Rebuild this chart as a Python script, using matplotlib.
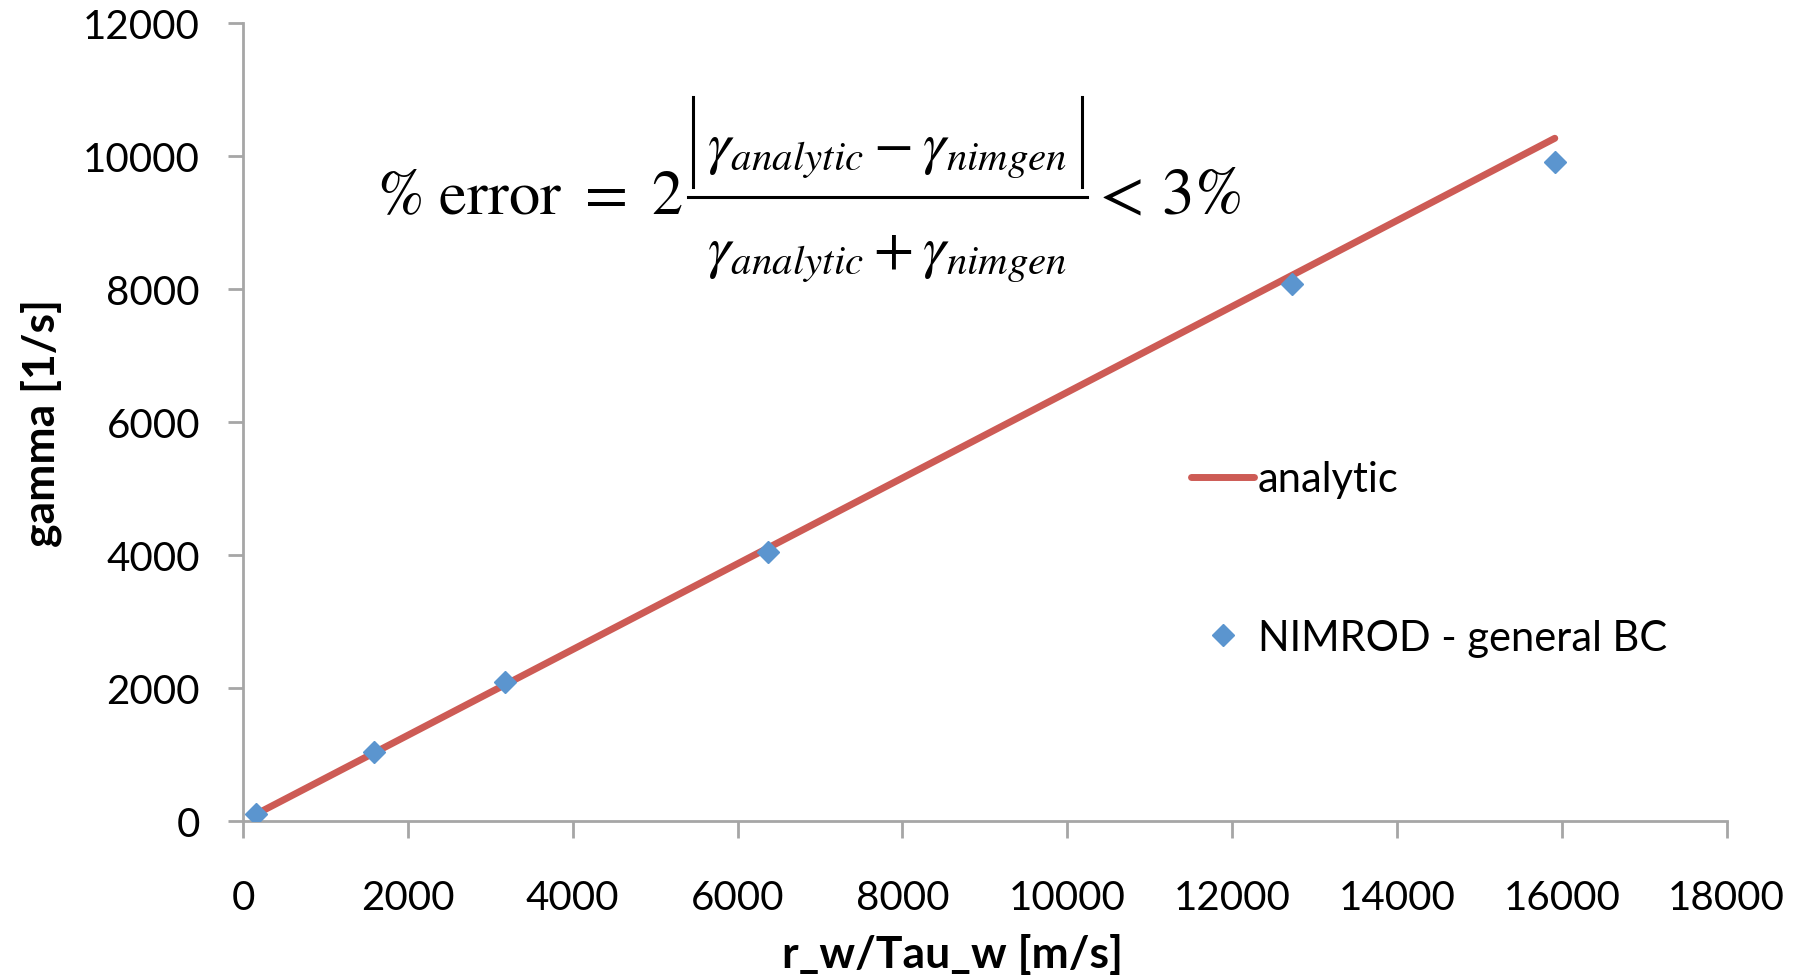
import matplotlib
matplotlib.use("Agg")
import matplotlib.pyplot as plt
from matplotlib.lines import Line2D

# ---------------------------------------------------------------
# data
# ---------------------------------------------------------------
x_vals = [159, 1592, 3183, 6366, 12732, 15915]
analytic = [103, 1026, 2052, 4104, 8209, 10266]
nimrod = [111, 1042, 2090, 4040, 8075, 9914]

x_ticks = [0, 2000, 4000, 6000, 8000, 10000, 12000, 14000, 16000, 18000]
y_ticks = [0, 2000, 4000, 6000, 8000, 10000, 12000]

red = "#CD5B55"
blue = "#5B95CF"
grey = "#A6A6A6"

plt.rcParams["font.family"] = ["Lato", "DejaVu Sans"]
plt.rcParams["mathtext.fontset"] = "stix"

W, H = 1808, 978
fig = plt.figure(figsize=(W / 100, H / 100), dpi=100)
ax = fig.add_axes([0.1344, 0.1595, 0.955 - 0.1344, 0.9755 - 0.1595])

ax.plot(x_vals, analytic, color=red, lw=5, solid_capstyle="round", label="analytic", zorder=2)
ax.plot(x_vals, nimrod, ls="none", marker="D", ms=11, color=blue, mec=blue,
        label="NIMROD - general BC", zorder=3)

ax.set_xlim(0, 18000)
ax.set_ylim(0, 12000)
ax.set_xticks(x_ticks)
ax.set_yticks(y_ticks)

for side in ["top", "right"]:
    ax.spines[side].set_visible(False)
for side in ["left", "bottom"]:
    ax.spines[side].set_color(grey)
    ax.spines[side].set_linewidth(2)

ax.tick_params(axis="x", direction="out", length=12, width=2, color=grey,
               labelsize=29, pad=30)
ax.tick_params(axis="y", direction="out", length=11, width=2, color=grey,
               labelsize=29, pad=20)

ax.set_xlabel("r_w/Tau_w [m/s]", fontsize=32, fontweight="bold", labelpad=12)
ax.xaxis.label.set_x(0.478)
ax.set_ylabel("gamma [1/s]", fontsize=32, fontweight="bold", labelpad=15)

leg = ax.legend(loc="upper left", bbox_to_anchor=(0.628, 0.473), frameon=False,
                fontsize=30, handlelength=1.5, handletextpad=0.1,
                labelspacing=2.9, borderaxespad=0)

# formula, laid out piece by piece (pixel positions in the figure)
def fx(px):
    return px / W

def fy(py):
    return 1 - py / H

fig.text(fx(683), fy(196), r"$\%\ \mathrm{error}\ =\ 2$", fontsize=45,
         ha="right", va="center")
fig.text(fx(887), fy(154), r"$\gamma_{analytic} - \gamma_{nimgen}$", fontsize=42,
         ha="center", va="center")
fig.text(fx(887), fy(258), r"$\gamma_{analytic} + \gamma_{nimgen}$", fontsize=42,
         ha="center", va="center")
fig.text(fx(1090), fy(196), r"$<\,3\%$", fontsize=47, ha="left", va="center")
fig.add_artist(Line2D([fx(688), fx(1087)], [fy(198), fy(198)], color="black", lw=2.2))
for bx in [693, 1082]:
    fig.add_artist(Line2D([fx(bx), fx(bx)], [fy(98), fy(188)], color="black", lw=2.2))

fig.savefig("out.png", dpi=100)
